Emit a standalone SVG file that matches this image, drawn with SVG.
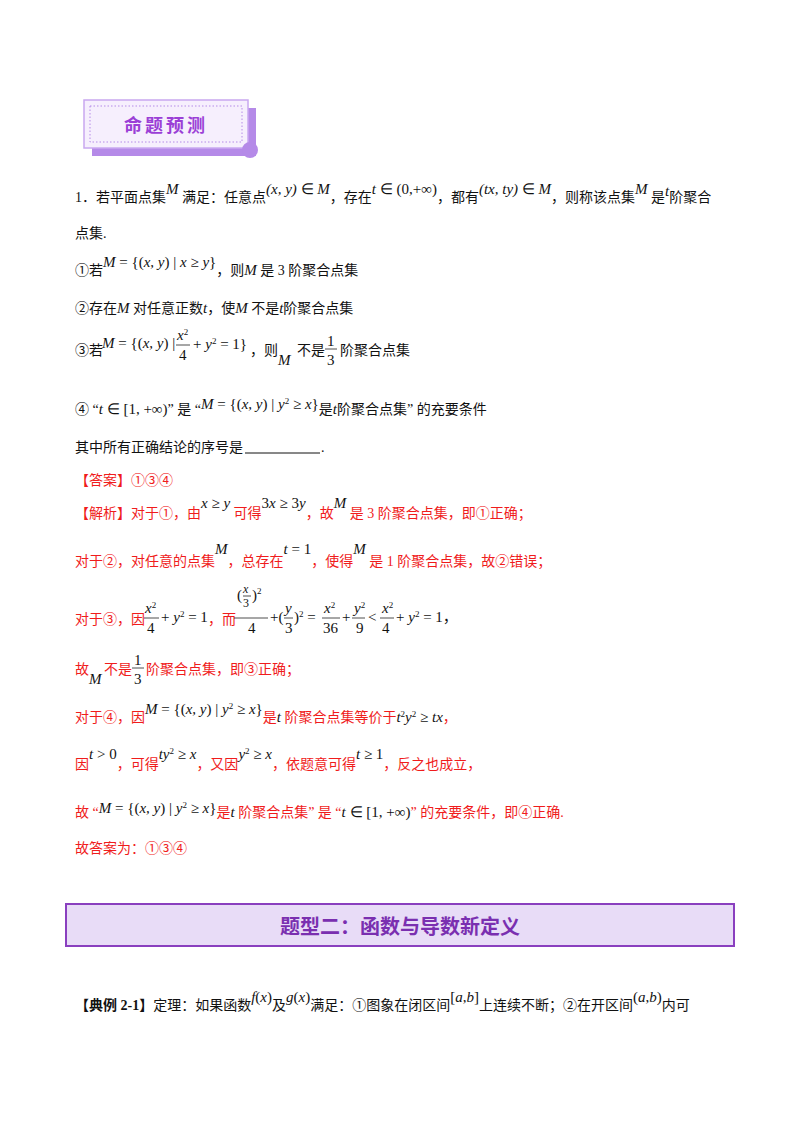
<svg xmlns="http://www.w3.org/2000/svg" width="800" height="1132" viewBox="0 0 800 1132">
<style>
text{font-family:"Liberation Serif","Noto Sans CJK SC",serif;font-size:14px;fill:#111}
.r{fill:#f01c1c}
.m{font-family:"Liberation Serif",serif;font-style:italic;font-size:15px}
.n{font-family:"Liberation Serif",serif;font-style:normal;font-size:15px}
.fl{stroke:#222;stroke-width:0.8}
text .p,.p{font-family:"Liberation Serif",serif;font-style:normal;font-size:9px}
.k{fill:#111}
</style>
<rect width="800" height="1132" fill="#fff"/>
<g id="badge">
<rect x="92" y="108" width="164" height="48" fill="#b58ae8"/>
<rect x="84" y="100" width="164" height="48" fill="#f6effd" stroke="#c9a8f0" stroke-width="1.5"/>
<rect x="90" y="106" width="152" height="36" fill="none" stroke="#b58ae8" stroke-dasharray="1.5 2"/>
<circle cx="250" cy="150" r="8" fill="#b58ae8"/>
<text x="166" y="132" text-anchor="middle" style="font-family:'Noto Sans CJK SC',sans-serif;font-weight:bold;font-size:18px;fill:#9b3fd6;letter-spacing:3px">命题预测</text>
</g>
<g id="question">
<text x="75" y="202">1．若平面点集<tspan class="m" dy="-8">M</tspan><tspan dy="8"> 满足：任意点</tspan><tspan class="m" dy="-8">(x, y) </tspan><tspan class="n">∈ </tspan><tspan class="m">M</tspan><tspan dy="8">，存在</tspan><tspan class="m" dy="-8">t </tspan><tspan class="n">∈ (0,+∞)</tspan><tspan dy="8">，都有</tspan><tspan class="m" dy="-8">(tx, ty) </tspan><tspan class="n">∈ </tspan><tspan class="m">M</tspan><tspan dy="8">，则称该点集</tspan><tspan class="m" dy="-8">M</tspan><tspan dy="8"> 是</tspan><tspan class="m" dy="-6">t</tspan><tspan dy="6">阶聚合</tspan></text>
<text x="75" y="238">点集.</text>
<text x="75" y="275">①若<tspan class="m" dy="-8">M</tspan><tspan class="n"> = {(</tspan><tspan class="m">x, y</tspan><tspan class="n">) | </tspan><tspan class="m">x</tspan><tspan class="n"> ≥ </tspan><tspan class="m">y</tspan><tspan class="n">}</tspan><tspan dy="8">，则</tspan><tspan class="m">M</tspan> 是 3 阶聚合点集</text>
<text x="75" y="313">②存在<tspan class="m">M</tspan> 对任意正数<tspan class="m">t</tspan>，使<tspan class="m">M</tspan> 不是<tspan class="m">t</tspan>阶聚合点集</text>
<text x="75" y="355">③若</text>
<text x="102" y="348" class="m">M<tspan class="n"> = {(</tspan>x, y<tspan class="n">) |</tspan></text>
<text x="177" y="340" class="m">x<tspan class="p" dy="-5">2</tspan></text>
<line x1="176" y1="345" x2="190" y2="345" class="fl"/>
<text x="179" y="360" class="n">4</text>
<text x="193" y="349" class="n">+ <tspan class="m">y</tspan><tspan class="p" dy="-5">2</tspan><tspan dy="5"> = 1}</tspan></text>
<text x="250" y="355">，则</text>
<text x="278" y="365" class="m">M</text>
<text x="297" y="355">不是</text>
<text x="327" y="346" class="n">1</text><line x1="325" y1="349" x2="337" y2="349" class="fl"/><text x="327" y="365" class="n">3</text>
<text x="340" y="355">阶聚合点集</text>
<text x="75" y="414">④  “<tspan class="m">t </tspan><tspan class="n">∈ [1, +∞)</tspan>” 是 “<tspan class="m" dy="-5">M</tspan><tspan class="n"> = {(</tspan><tspan class="m">x, y</tspan><tspan class="n">) | </tspan><tspan class="m">y</tspan><tspan class="p" dy="-5">2</tspan><tspan class="n" dy="5"> ≥ </tspan><tspan class="m">x</tspan><tspan class="n">}</tspan><tspan dy="5">是</tspan><tspan class="m">t</tspan>阶聚合点集” 的充要条件</text>
<text x="75" y="452">其中所有正确结论的序号是</text>
<line x1="245" y1="453" x2="320" y2="453" stroke="#111" stroke-width="1"/>
<text x="321" y="452">.</text>
</g>
<g id="solution">
<text x="75" y="485" class="r">【答案】①③④</text>
<text x="75" y="518" class="r">【解析】对于①，由<tspan class="m k" dy="-10">x</tspan><tspan class="n k"> ≥ </tspan><tspan class="m k">y</tspan><tspan dy="10"> 可得</tspan><tspan class="n k" dy="-10">3<tspan class="m">x</tspan> ≥ 3<tspan class="m">y</tspan></tspan><tspan dy="10">，故</tspan><tspan class="m k" dy="-10">M</tspan><tspan dy="10"> 是 3 阶聚合点集，即①正确；</tspan></text>
<text x="75" y="566" class="r">对于②，对任意的点集<tspan class="m k" dy="-12">M</tspan><tspan dy="12">，总存在</tspan><tspan class="n k" dy="-12"><tspan class="m">t</tspan> = 1</tspan><tspan dy="12">，使得</tspan><tspan class="m k" dy="-12">M</tspan><tspan dy="12"> 是 1 阶聚合点集，故②错误；</tspan></text>
<text x="75" y="624" class="r">对于③，因</text>
<text x="145" y="613" class="m">x<tspan class="p" dy="-5">2</tspan></text><line x1="144" y1="618" x2="159" y2="618" class="fl"/><text x="147" y="633" class="n">4</text>
<text x="161" y="622" class="n">+ <tspan class="m">y</tspan><tspan class="p" dy="-5">2</tspan><tspan dy="5"> = 1</tspan></text>
<text x="208" y="624" class="r">，而</text>
<text x="237" y="600" class="n">(</text><text x="243" y="593" class="m" style="font-size:12px">x</text><line x1="243" y1="596" x2="251" y2="596" class="fl"/><text x="243" y="607" class="n" style="font-size:12px">3</text><text x="252" y="600" class="n">)<tspan class="p" dy="-6">2</tspan></text>
<line x1="234" y1="618" x2="268" y2="618" class="fl"/><text x="248" y="633" class="n">4</text>
<text x="270" y="622" class="n">+(</text><text x="285" y="613" class="m">y</text><line x1="284" y1="618" x2="293" y2="618" class="fl"/><text x="285" y="633" class="n">3</text><text x="294" y="622" class="n">)<tspan class="p" dy="-5">2</tspan><tspan dy="5"> =</tspan></text>
<text x="324" y="613" class="m">x<tspan class="p" dy="-5">2</tspan></text><line x1="322" y1="618" x2="340" y2="618" class="fl"/><text x="323" y="633" class="n">36</text>
<text x="342" y="622" class="n">+</text>
<text x="354" y="613" class="m">y<tspan class="p" dy="-5">2</tspan></text><line x1="352" y1="618" x2="365" y2="618" class="fl"/><text x="356" y="633" class="n">9</text>
<text x="368" y="622" class="n">&lt;</text>
<text x="382" y="613" class="m">x<tspan class="p" dy="-5">2</tspan></text><line x1="380" y1="618" x2="394" y2="618" class="fl"/><text x="382" y="633" class="n">4</text>
<text x="396" y="622" class="n">+ <tspan class="m">y</tspan><tspan class="p" dy="-5">2</tspan><tspan dy="5"> = 1</tspan><tspan font-family="Noto Sans CJK SC">，</tspan></text>
<text x="75" y="674" class="r">故</text>
<text x="89" y="684" class="m">M</text>
<text x="104" y="674" class="r">不是</text>
<text x="134" y="665" class="n">1</text><line x1="132" y1="668" x2="144" y2="668" class="fl"/><text x="134" y="684" class="n">3</text>
<text x="146" y="674" class="r">阶聚合点集，即③正确；</text>
<text x="75" y="722" class="r">对于④，因<tspan class="m k" dy="-8">M</tspan><tspan class="n k"> = {(</tspan><tspan class="m k">x, y</tspan><tspan class="n k">) | </tspan><tspan class="m k">y</tspan><tspan class="p k" dy="-5">2</tspan><tspan class="n k" dy="5"> ≥ </tspan><tspan class="m k">x</tspan><tspan class="n k">}</tspan><tspan dy="8">是</tspan><tspan class="m k">t</tspan> 阶聚合点集等价于<tspan class="m k">t</tspan><tspan class="p k" dy="-5">2</tspan><tspan class="m k" dy="5">y</tspan><tspan class="p k" dy="-5">2</tspan><tspan class="n k" dy="5"> ≥ </tspan><tspan class="m k">tx</tspan>，</text>
<text x="75" y="769" class="r">因<tspan class="m k" dy="-10">t</tspan><tspan class="n k"> &gt; 0</tspan><tspan dy="10">，可得</tspan><tspan class="m k" dy="-10">ty</tspan><tspan class="p k" dy="-5">2</tspan><tspan class="n k" dy="5"> ≥ </tspan><tspan class="m k">x</tspan><tspan dy="10">，又因</tspan><tspan class="m k" dy="-10">y</tspan><tspan class="p k" dy="-5">2</tspan><tspan class="n k" dy="5"> ≥ </tspan><tspan class="m k">x</tspan><tspan dy="10">，依题意可得</tspan><tspan class="m k" dy="-10">t</tspan><tspan class="n k"> ≥ 1</tspan><tspan dy="10">，反之也成立，</tspan></text>
<text x="75" y="817" class="r">故 “<tspan class="m k" dy="-4">M</tspan><tspan class="n k"> = {(</tspan><tspan class="m k">x, y</tspan><tspan class="n k">) | </tspan><tspan class="m k">y</tspan><tspan class="p k" dy="-5">2</tspan><tspan class="n k" dy="5"> ≥ </tspan><tspan class="m k">x</tspan><tspan class="n k">}</tspan><tspan dy="4">是</tspan><tspan class="m k">t</tspan> 阶聚合点集” 是 “<tspan class="m k">t </tspan><tspan class="n k">∈ [1, +∞)</tspan>” 的充要条件，即④正确.</text>
<text x="75" y="853" class="r">故答案为：①③④</text>
</g>
<g id="section">
<rect x="66" y="904" width="668" height="42" fill="#e8dcf7" stroke="#8a3fbf" stroke-width="2"/>
<text x="400" y="934" text-anchor="middle" style="font-family:'Noto Sans CJK SC',sans-serif;font-weight:bold;font-size:20px;fill:#7a2fb0">题型二：函数与导数新定义</text>
</g>
<text x="75" y="1010"><tspan font-weight="bold">【典例 2-1】</tspan>定理：如果函数<tspan class="m" dy="-8">f</tspan><tspan class="n">(</tspan><tspan class="m">x</tspan><tspan class="n">)</tspan><tspan dy="8">及</tspan><tspan class="m" dy="-8">g</tspan><tspan class="n">(</tspan><tspan class="m">x</tspan><tspan class="n">)</tspan><tspan dy="8">满足：①图象在闭区间</tspan><tspan class="n" dy="-8">[</tspan><tspan class="m">a</tspan><tspan class="n">,</tspan><tspan class="m">b</tspan><tspan class="n">]</tspan><tspan dy="8">上连续不断；②在开区间</tspan><tspan class="n" dy="-8">(</tspan><tspan class="m">a</tspan><tspan class="n">,</tspan><tspan class="m">b</tspan><tspan class="n">)</tspan><tspan dy="8">内可</tspan></text>
</svg>
